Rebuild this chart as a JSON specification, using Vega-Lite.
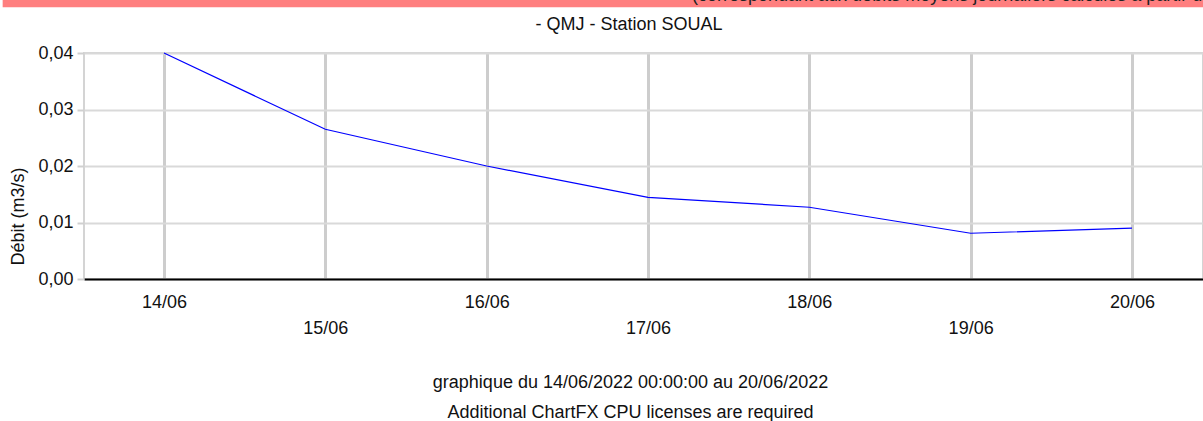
{
  "$schema": "https://vega.github.io/schema/vega-lite/v6.json",
  "width": 1119,
  "height": 226,
  "autosize": {"type": "none"},
  "padding": {"left": 84, "top": 53, "right": 0, "bottom": 142},
  "background": "white",
  "config": {
    "font": "Liberation Sans",
    "view": {"stroke": "#d4d4d4", "strokeWidth": 2}
  },
  "resolve": {"scale": {"x": "independent", "y": "independent"}, "axis": {"x": "independent", "y": "independent"}},
  "layer": [
    {
      "data": {
        "values": [
          {"date": "2022-06-14", "debit": 0.0400},
          {"date": "2022-06-15", "debit": 0.0265},
          {"date": "2022-06-16", "debit": 0.0200},
          {"date": "2022-06-17", "debit": 0.01446},
          {"date": "2022-06-18", "debit": 0.0127},
          {"date": "2022-06-19", "debit": 0.0081},
          {"date": "2022-06-20", "debit": 0.0090}
        ]
      },
      "mark": {"type": "line", "color": "#0000ff", "strokeWidth": 1.2},
      "encoding": {
        "x": {
          "field": "date",
          "type": "temporal",
          "scale": {
            "type": "utc",
            "domain": [
              {"year": 2022, "month": 6, "date": 13, "hours": 12, "minutes": 6, "utc": true},
              {"year": 2022, "month": 6, "date": 20, "hours": 10, "minutes": 34, "utc": true}
            ]
          },
          "axis": {
            "values": [
              {"year": 2022, "month": 6, "date": 14, "utc": true},
              {"year": 2022, "month": 6, "date": 15, "utc": true},
              {"year": 2022, "month": 6, "date": 16, "utc": true},
              {"year": 2022, "month": 6, "date": 17, "utc": true},
              {"year": 2022, "month": 6, "date": 18, "utc": true},
              {"year": 2022, "month": 6, "date": 19, "utc": true},
              {"year": 2022, "month": 6, "date": 20, "utc": true}
            ],
            "format": "%d/%m",
            "labelExpr": "utcdate(datum.value) % 2 == 0 ? datum.label : ['', datum.label]",
            "labelFontSize": 18,
            "labelColor": "#111111",
            "labelBaseline": "top",
            "labelPadding": 14.5,
            "labelLineHeight": 26,
            "labelOverlap": false,
            "labelFlush": false,
            "ticks": false,
            "tickSize": 0,
            "domainColor": "#000000",
            "domainWidth": 2,
            "grid": true,
            "gridColor": "#cdcdcd",
            "gridWidth": 3,
            "title": ["graphique du 14/06/2022 00:00:00 au 20/06/2022", "Additional ChartFX CPU licenses are required"],
            "titleFontSize": 18,
            "titleFontWeight": "normal",
            "titleColor": "#111111",
            "titleLineHeight": 30,
            "titleBaseline": "top",
            "titleAlign": "center",
            "titleX": 546,
            "titleY": 94.5
          }
        },
        "y": {
          "field": "debit",
          "type": "quantitative",
          "scale": {"domain": [0, 0.04], "nice": false, "zero": true},
          "axis": {
            "values": [0, 0.01, 0.02, 0.03, 0.04],
            "labelExpr": "replace(format(datum.value, '.2f'), '.', ',')",
            "labelFontSize": 18,
            "labelColor": "#111111",
            "labelPadding": 4,
            "tickSize": 7,
            "tickColor": "#d0d0d0",
            "tickWidth": 2,
            "domain": false,
            "grid": true,
            "gridColor": "#d9d9d9",
            "gridWidth": 2,
            "title": "Débit (m3/s)",
            "titleFontSize": 18,
            "titleFontWeight": "normal",
            "titleColor": "#111111",
            "titleAngle": -90,
            "titleBaseline": "middle",
            "titleAlign": "center",
            "titleX": -66,
            "titleY": 163
          }
        }
      }
    },
    {
      "data": {"values": [{"label": "band"}]},
      "mark": {"type": "rect", "color": "#ff7f7f", "clip": false},
      "encoding": {
        "x": {
          "datum": {"year": 2022, "month": 6, "date": 13, "utc": true},
          "type": "temporal",
          "scale": {
            "type": "utc",
            "domain": [
              {"year": 2022, "month": 6, "date": 13, "hours": 12, "minutes": 6, "utc": true},
              {"year": 2022, "month": 6, "date": 20, "hours": 10, "minutes": 34, "utc": true}
            ]
          },
          "axis": null
        },
        "x2": {"datum": {"year": 2022, "month": 6, "date": 21, "utc": true}},
        "y": {"datum": 0.0481, "type": "quantitative", "scale": {"domain": [0, 0.04], "nice": false, "zero": true}, "axis": null},
        "y2": {"datum": 0.06}
      }
    },
    {
      "data": {"values": [{"label": "(correspondant aux débits moyens journaliers calculés à partir des données horaires)"}]},
      "mark": {"type": "text", "align": "left", "baseline": "alphabetic", "fontSize": 18, "color": "#222222", "clip": false},
      "encoding": {
        "x": {
          "datum": {"year": 2022, "month": 6, "date": 17, "hours": 6, "minutes": 33, "utc": true},
          "type": "temporal",
          "scale": {
            "type": "utc",
            "domain": [
              {"year": 2022, "month": 6, "date": 13, "hours": 12, "minutes": 6, "utc": true},
              {"year": 2022, "month": 6, "date": 20, "hours": 10, "minutes": 34, "utc": true}
            ]
          },
          "axis": null
        },
        "y": {"datum": 0.04929, "type": "quantitative", "scale": {"domain": [0, 0.04], "nice": false, "zero": true}, "axis": null},
        "text": {"field": "label"}
      }
    },
    {
      "data": {"values": [{"label": "- QMJ - Station SOUAL"}]},
      "mark": {"type": "text", "align": "center", "baseline": "middle", "fontSize": 18, "color": "#111111", "clip": false},
      "encoding": {
        "x": {
          "datum": {"year": 2022, "month": 6, "date": 16, "hours": 21, "minutes": 10, "utc": true},
          "type": "temporal",
          "scale": {
            "type": "utc",
            "domain": [
              {"year": 2022, "month": 6, "date": 13, "hours": 12, "minutes": 6, "utc": true},
              {"year": 2022, "month": 6, "date": 20, "hours": 10, "minutes": 34, "utc": true}
            ]
          },
          "axis": null
        },
        "y": {"datum": 0.04496, "type": "quantitative", "scale": {"domain": [0, 0.04], "nice": false, "zero": true}, "axis": null},
        "text": {"field": "label"}
      }
    }
  ]
}
